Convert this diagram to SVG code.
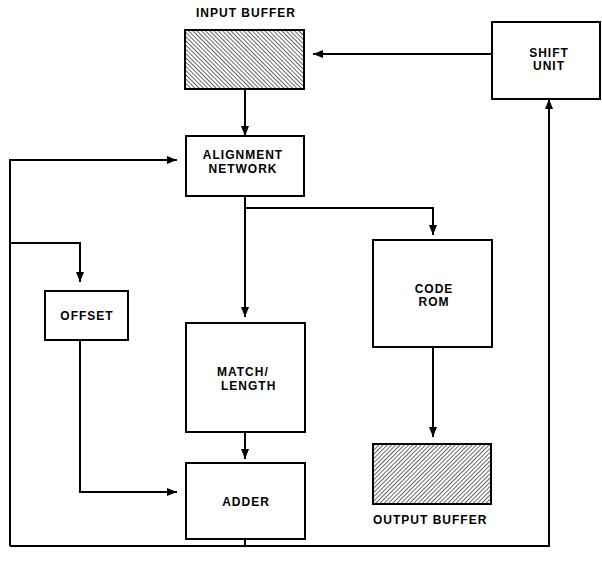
<svg xmlns="http://www.w3.org/2000/svg" width="602" height="575" viewBox="0 0 602 575">
<style>
.box{fill:#fff;stroke:#000;stroke-width:2}
.t{font-family:"Liberation Sans",Arial,sans-serif;font-weight:bold;font-size:12px;letter-spacing:1px;fill:#000}
.m{text-anchor:middle}
.c{fill:none;stroke:#000;stroke-width:2}
</style>
<defs>
<pattern id="hb" patternUnits="userSpaceOnUse" width="3" height="3" patternTransform="rotate(-45)">
<rect width="3" height="3" fill="#fff"/><line x1="0" y1="0" x2="0" y2="3" stroke="#000" stroke-width="1.2"/>
</pattern>
<pattern id="hf" patternUnits="userSpaceOnUse" width="3" height="3" patternTransform="rotate(45)">
<rect width="3" height="3" fill="#fff"/><line x1="0" y1="0" x2="0" y2="3" stroke="#000" stroke-width="1.2"/>
</pattern>
<marker id="a" markerWidth="10" markerHeight="8" refX="10" refY="4" orient="auto" markerUnits="userSpaceOnUse">
<path d="M0,0 L10,4 L0,8 Z" fill="#000"/>
</marker>
</defs>
<g id="connectors">
<path class="c" d="M492,54 H313" marker-end="url(#a)"/>
<path class="c" d="M245,89 V136" marker-end="url(#a)"/>
<path class="c" d="M245,196 V317" marker-end="url(#a)"/>
<path class="c" d="M245,208 H433 V235" marker-end="url(#a)"/>
<path class="c" d="M433,347 V437" marker-end="url(#a)"/>
<path class="c" d="M245,432 V459" marker-end="url(#a)"/>
<path class="c" d="M80,340 V492 H177" marker-end="url(#a)"/>
<path class="c" d="M245,539 V546"/>
<path class="c" d="M10,546 H549 V99" marker-end="url(#a)"/>
<path class="c" d="M10,546 V160 H177" marker-end="url(#a)"/>
<path class="c" d="M10,243 H80 V282" marker-end="url(#a)"/>
</g>
<g id="input-buffer">
<rect x="185" y="30" width="119" height="59" fill="url(#hb)" stroke="#000" stroke-width="2"/>
<text class="t m" x="246" y="17">INPUT BUFFER</text>
</g>
<g id="shift-unit">
<rect class="box" x="492" y="22" width="108" height="77"/>
<text class="t m" x="549" y="57">SHIFT</text>
<text class="t m" x="549" y="70">UNIT</text>
</g>
<g id="alignment-network">
<rect class="box" x="186" y="136" width="118" height="60"/>
<text class="t m" x="243" y="159">ALIGNMENT</text>
<text class="t m" x="243" y="173">NETWORK</text>
</g>
<g id="code-rom">
<rect class="box" x="373" y="240" width="119" height="107"/>
<text class="t m" x="434" y="293">CODE</text>
<text class="t m" x="434" y="306">ROM</text>
</g>
<g id="offset">
<rect class="box" x="45" y="291" width="83" height="49"/>
<text class="t m" x="87" y="320">OFFSET</text>
</g>
<g id="match-length">
<rect class="box" x="186" y="323" width="119" height="109"/>
<text class="t" x="217" y="376">MATCH/</text>
<text class="t" x="221" y="390">LENGTH</text>
</g>
<g id="adder">
<rect class="box" x="186" y="463" width="119" height="76"/>
<text class="t m" x="246" y="506">ADDER</text>
</g>
<g id="output-buffer">
<rect x="373" y="444" width="118" height="60" fill="url(#hf)" stroke="#000" stroke-width="2"/>
<text class="t" x="373" y="524">OUTPUT BUFFER</text>
</g>
</svg>
